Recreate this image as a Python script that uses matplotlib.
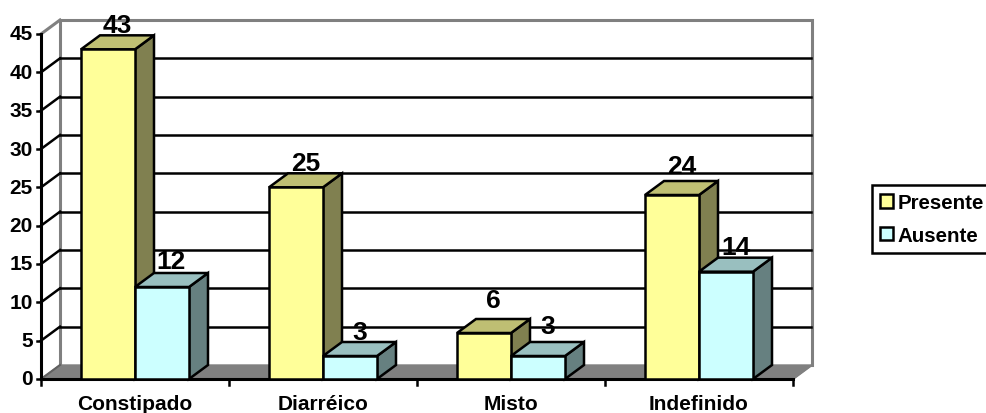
import matplotlib
matplotlib.use('Agg')
import matplotlib.pyplot as plt
from matplotlib.patches import Patch

categories = ['Constipado', 'Diarréico', 'Misto', 'Indefinido']
presente = [43, 25, 6, 24]
ausente = [12, 3, 3, 14]
series_names = ['Presente', 'Ausente']
yticks = [0, 5, 10, 15, 20, 25, 30, 35, 40, 45]

# gap in px between bar top and its label, the original has them hand placed
gap_presente = [3, 3, 12, 8]
gap_ausente = [5, 3, 9, 4]

plt.rcParams['font.family'] = ['Liberation Sans', 'DejaVu Sans']
plt.rcParams['font.weight'] = 'bold'

# one x unit = one category (188 px), one y unit = 7.667 px
xscale = 188.0
yscale = 345.0 / 45
dx = 19 / xscale
dy = 14 / yscale
bar_w = 54 / xscale
lw = 1.8
ymax = yticks[-1]
ncat = len(categories)

fig = plt.figure(figsize=(9.86, 4.14), dpi=100)
ax = fig.add_axes([0, 0, 1, 1])
ax.set_xlim(-41 / xscale, 945 / xscale)
ax.set_ylim(-34 / yscale, 380 / yscale)
ax.axis('off')

# walls and floor
ax.fill([0, dx, ncat + dx, ncat], [0, dy, dy, 0], color='#808080', zorder=1)
ax.plot([dx, dx, ncat + dx, ncat + dx], [dy, ymax + dy, ymax + dy, dy],
        color='#808080', lw=2.2, zorder=2, solid_joinstyle='miter')
ax.plot([ncat, ncat + dx], [0, dy], color='#808080', lw=1.5, zorder=2)
ax.plot([0, dx], [ymax, ymax + dy], color='#808080', lw=2.2, zorder=2)
ax.plot([0, dx], [0, dy], color='#606060', lw=1.5, zorder=2)

# gridlines on back and side wall
for v in yticks[1:-1]:
    ax.plot([dx, ncat + dx - 0.005], [v + dy, v + dy], color='black', lw=lw, zorder=3)
    ax.plot([0, dx], [v, v + dy], color='black', lw=lw, zorder=3)

# axes lines and ticks
ax.plot([0, 0], [0, ymax], color='black', lw=2.2, zorder=4)
ax.plot([0, ncat], [0, 0], color='black', lw=2.2, zorder=4)
for v in yticks:
    ax.plot([-4 / xscale, 0], [v, v], color='black', lw=lw, zorder=4)
    ax.text(-8 / xscale, v, str(v), ha='right', va='center', fontsize=15, zorder=6)
for i in range(ncat + 1):
    ax.plot([i, i], [0, -6 / yscale], color='black', lw=lw, zorder=4)
for i, name in enumerate(categories):
    ax.text(i + 0.5, -25 / yscale, name, ha='center', va='center', fontsize=15, zorder=6)


def draw_bar(x, v, gap, front, top, side, z):
    ax.bar(x, v, width=bar_w, align='edge', color=front, edgecolor='black', lw=lw, zorder=z + 0.2)
    ax.fill([x, x + dx, x + bar_w + dx, x + bar_w], [v, v + dy, v + dy, v],
            facecolor=top, edgecolor='black', lw=lw, zorder=z + 0.1)
    ax.fill([x + bar_w, x + bar_w + dx, x + bar_w + dx, x + bar_w], [0, dy, v + dy, v],
            facecolor=side, edgecolor='black', lw=lw, zorder=z)
    ax.text(x + bar_w / 2 + dx / 2, v + dy + gap / yscale, str(v), ha='center', va='baseline',
            fontsize=19, zorder=7)


for i in range(ncat):
    draw_bar(i + 0.5 - bar_w, presente[i], gap_presente[i], '#FFFF99', '#BFBF73', '#808050', 5)
    draw_bar(i + 0.5, ausente[i], gap_ausente[i], '#CCFFFF', '#99BFBF', '#668080', 5.5)

handles = [Patch(facecolor='#FFFF99', edgecolor='black', lw=lw, label=series_names[0]),
           Patch(facecolor='#CCFFFF', edgecolor='black', lw=lw, label=series_names[1])]
leg = ax.legend(handles=handles, loc='upper left', bbox_to_anchor=(872 / 986, 1 - 186 / 414),
                borderaxespad=0, fontsize=14.8, fancybox=False, framealpha=1, edgecolor='black',
                handlelength=0.6, handleheight=0.6, handletextpad=0.25, labelspacing=0.68,
                borderpad=0.4)
leg.get_frame().set_linewidth(1.8)

plt.savefig('out.png', dpi=100)
